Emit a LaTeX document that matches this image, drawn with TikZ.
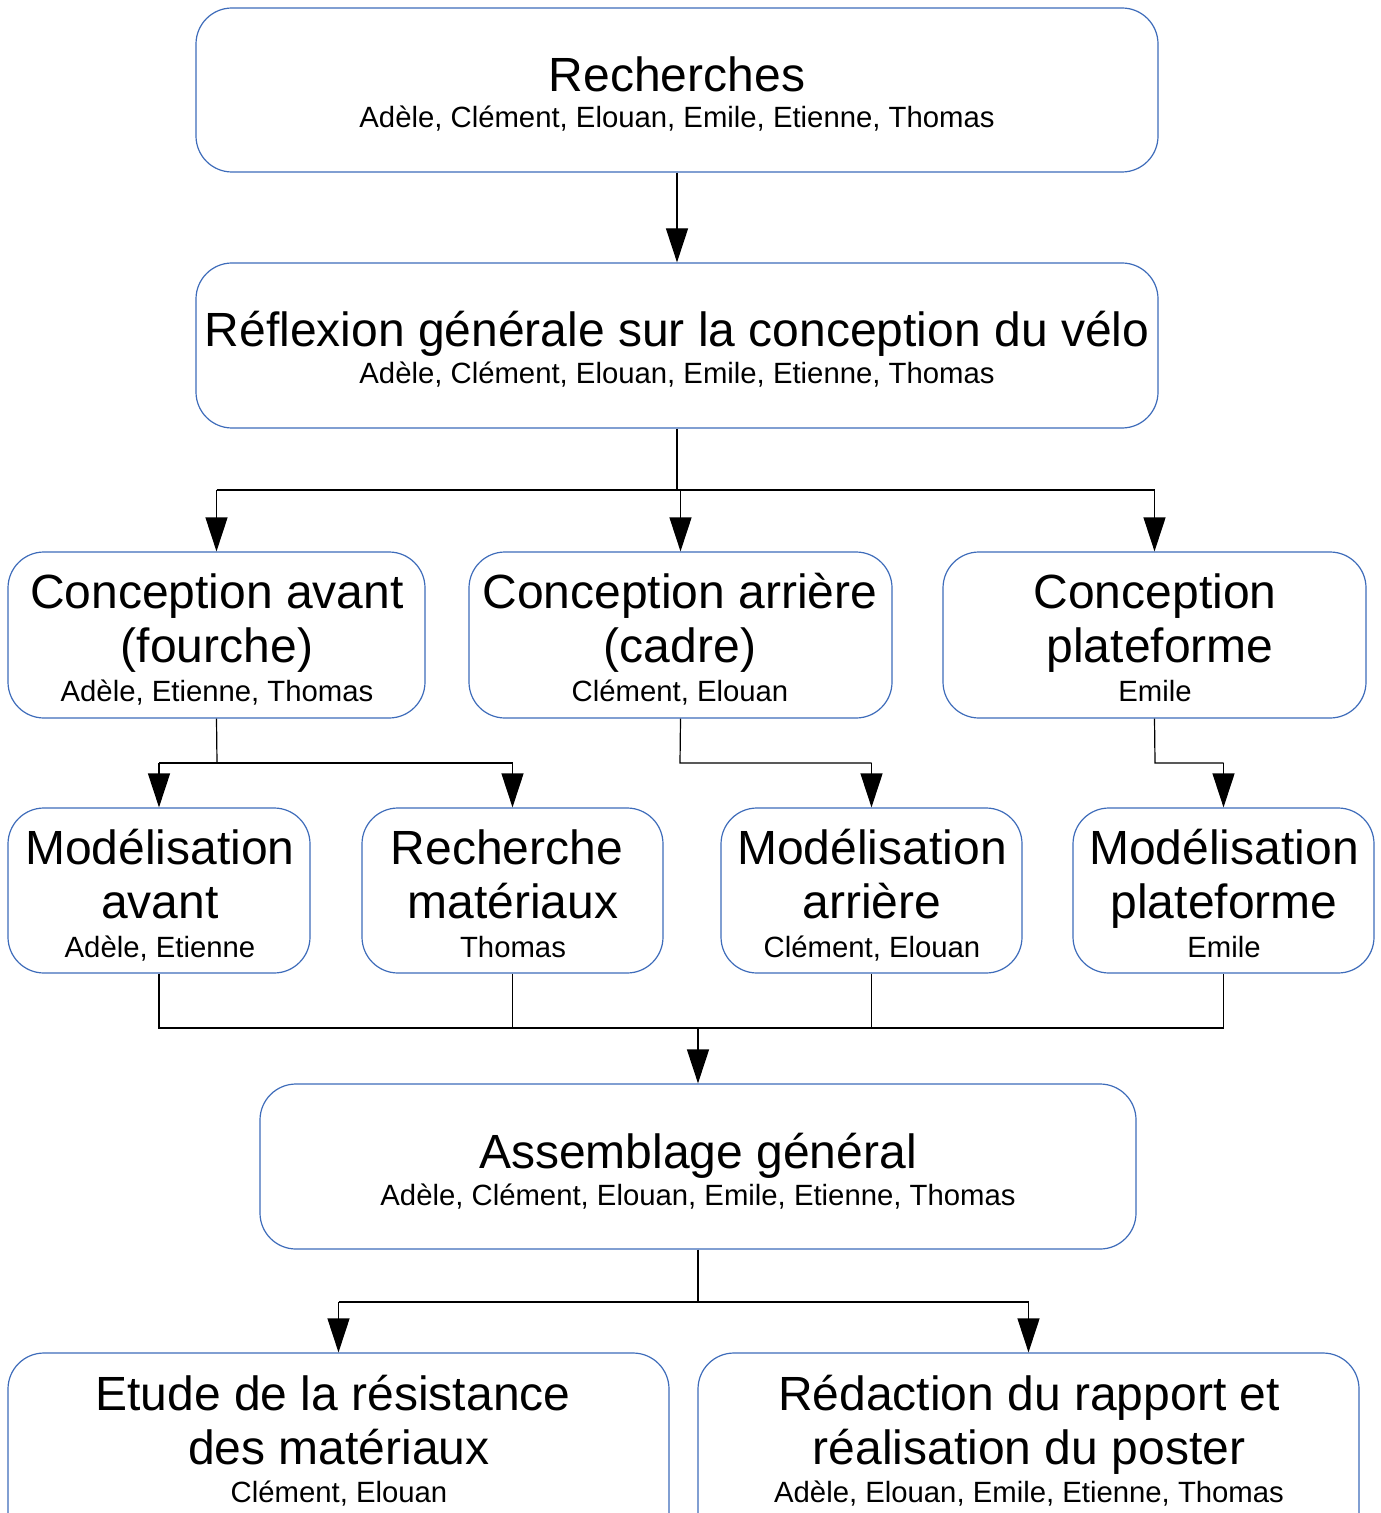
\documentclass[tikz,border=0pt]{standalone}
\usepackage{fontspec}
\setmainfont{Liberation Sans}
\usetikzlibrary{arrows.meta,fit}
\definecolor{boxblue}{RGB}{62,108,186}
\tikzset{
  box/.style={draw=boxblue, line width=0.6pt, rounded corners=18pt, inner sep=0pt, fill=white},
  ttl/.style={anchor=base, inner sep=0pt, font=\fontsize{24}{27}\selectfont},
  nms/.style={anchor=base, inner sep=0pt, font=\fontsize{14.65}{17}\selectfont},
  conn/.style={draw=black, line width=0.6pt},
  arr/.style={conn, -{Triangle[width=11pt,length=17pt]}}
}
\begin{document}
\begin{tikzpicture}[x=0.5pt,y=-0.5pt]
\clip (0,0) rectangle (1380,1513);
\fill[white] (0,0) rectangle (1380,1513);
% boxes
\node[box, fit={(196,8) (1158,172)}] (b1) {};
\node[box, fit={(196,263) (1158,428)}] (b2) {};
\node[box, fit={(8,552) (425,718)}] (b3a) {};
\node[box, fit={(469,552) (892,718)}] (b3b) {};
\node[box, fit={(943,552) (1366,718)}] (b3c) {};
\node[box, fit={(8,808) (310,973)}] (b4a) {};
\node[box, fit={(362,808) (663,973)}] (b4b) {};
\node[box, fit={(721,808) (1022,973)}] (b4c) {};
\node[box, fit={(1073,808) (1374,973)}] (b4d) {};
\node[box, fit={(260,1084) (1136,1249)}] (b5) {};
\node[box, fit={(8,1353) (669,1580)}] (b6a) {};
\node[box, fit={(698,1353) (1359,1580)}] (b6b) {};
% texts
\node[ttl] (t1) at (677,92) {Recherches};
\node[nms] (n1) at (677,128) {Adèle, Clément, Elouan, Emile, Etienne, Thomas};
\node[ttl] (t2) at (677,347) {Réflexion générale sur la conception du vélo};
\node[nms] (n2) at (677,384) {Adèle, Clément, Elouan, Emile, Etienne, Thomas};
\node[ttl] (t3a1) at (217,608) {Conception avant};
\node[ttl] (t3a2) at (217,662) {(fourche)};
\node[nms] (n3a) at (217,701) {Adèle, Etienne, Thomas};
\node[ttl] (t3b1) at (680,608) {Conception arrière};
\node[ttl] (t3b2) at (680,662) {(cadre)};
\node[nms] (n3b) at (680,701) {Clément, Elouan};
\node[ttl] (t3c1) at (1155,608) {Conception};
\node[ttl] (t3c2) at (1160,662) {plateforme};
\node[nms] (n3c) at (1155,701) {Emile};
\node[ttl] (t4a1) at (160,864) {Modélisation};
\node[ttl] (t4a2) at (160,918) {avant};
\node[nms] (n4a) at (160,957) {Adèle, Etienne};
\node[ttl] (t4b1) at (507,864) {Recherche};
\node[ttl] (t4b2) at (513,918) {matériaux};
\node[nms] (n4b) at (513,957) {Thomas};
\node[ttl] (t4c1) at (872,864) {Modélisation};
\node[ttl] (t4c2) at (872,918) {arrière};
\node[nms] (n4c) at (872,957) {Clément, Elouan};
\node[ttl] (t4d1) at (1224,864) {Modélisation};
\node[ttl] (t4d2) at (1224,918) {plateforme};
\node[nms] (n4d) at (1224,957) {Emile};
\node[ttl] (t5) at (698,1168) {Assemblage général};
\node[nms] (n5) at (698,1205) {Adèle, Clément, Elouan, Emile, Etienne, Thomas};
\node[ttl] (t6a1) at (333,1410) {Etude de la résistance};
\node[ttl] (t6a2) at (339,1464) {des matériaux};
\node[nms] (n6a) at (339,1502) {Clément, Elouan};
\node[ttl] (t6b1) at (1029,1410) {Rédaction du rapport et};
\node[ttl] (t6b2) at (1029,1464) {réalisation du poster};
\node[nms] (n6b) at (1029,1502) {Adèle, Elouan, Emile, Etienne, Thomas};
% junction coordinates
\coordinate (j1) at (677,490);
\coordinate (j2) at (217,763);
\coordinate (j3) at (680,763);
\coordinate (j4) at (1155,763);
\coordinate (j5) at (698,1028);
\coordinate (j6) at (698,1302);
% connectors
\draw[arr] (b1.south) -- (b2.north);
\draw[conn] (b2.south) -- (j1);
\draw[conn] (j1 -| b3a.north) -- (j1 -| b3c.north);
\draw[arr] (j1 -| b3a.north) -- (b3a.north);
\draw[arr] (j1 -| b3b.north) -- (b3b.north);
\draw[arr] (j1 -| b3c.north) -- (b3c.north);
\draw[conn] (b3a.south) -- (j2);
\draw[conn] (j2 -| b4a.north) -- (j2 -| b4b.north);
\draw[arr] (j2 -| b4a.north) -- (b4a.north);
\draw[arr] (j2 -| b4b.north) -- (b4b.north);
\draw[conn] (b3b.south) -- (j3) -- (j3 -| b4c.north);
\draw[arr] (j3 -| b4c.north) -- (b4c.north);
\draw[conn] (b3c.south) -- (j4) -- (j4 -| b4d.north);
\draw[arr] (j4 -| b4d.north) -- (b4d.north);
\draw[conn] (b4a.south) -- (b4a.south |- j5) -- (b4d.south |- j5) -- (b4d.south);
\draw[conn] (b4b.south) -- (b4b.south |- j5);
\draw[conn] (b4c.south) -- (b4c.south |- j5);
\draw[arr] (j5) -- (b5.north);
\draw[conn] (b5.south) -- (j6);
\draw[conn] (j6 -| b6a.north) -- (j6 -| b6b.north);
\draw[arr] (j6 -| b6a.north) -- (b6a.north);
\draw[arr] (j6 -| b6b.north) -- (b6b.north);
\end{tikzpicture}
\end{document}
